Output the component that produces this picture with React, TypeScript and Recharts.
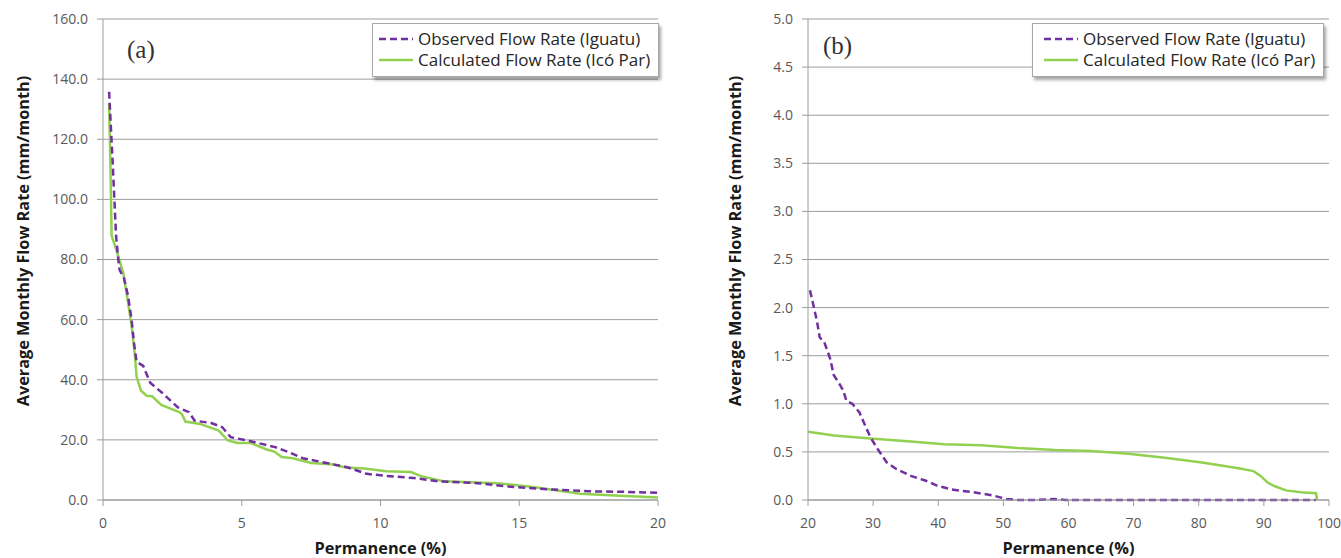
import React from 'react';
import { LineChart, Line, XAxis, YAxis, CartesianGrid, Legend } from 'recharts';

const FONT = '"Open Sans", "Noto Sans", sans-serif';
const PURPLE = '#7030A0';
const GREEN = '#92D050';
const GRID = '#9c9c9c';
const TICK = '#595959';

const seriesNames = ['Observed Flow Rate (Iguatu)', 'Calculated Flow Rate (Icó Par)'];
const yTitle = 'Average Monthly Flow Rate (mm/month)';
const xTitle = 'Permanence (%)';
const panelTags = ['(a)', '(b)'];

// Panel (a): permanence 0-20 %
const ticksAX = [0, 5, 10, 15, 20];
const ticksAY = [0, 20, 40, 60, 80, 100, 120, 140, 160];
const obsAX = [0.22, 0.35, 0.47, 0.55, 0.6, 0.75, 0.9, 1.03, 1.12, 1.21, 1.45, 1.7, 2.15, 2.7, 3.1, 3.3, 3.9, 4.3, 4.6, 5.2, 6.2, 6.7, 7.2, 7.9, 8.8, 9.5, 10.2, 11.2, 12.1, 13.5, 14.8, 16.2, 17.5, 18.8, 20];
const obsAY = [135.8, 112, 88, 80, 76.5, 74, 68, 60, 52, 46, 44.6, 39, 35.5, 30.8, 29.2, 26.4, 25.6, 24.2, 20.9, 19.8, 17.6, 15.9, 13.9, 12.6, 10.9, 8.7, 8.0, 7.3, 6.2, 5.6, 4.3, 3.5, 2.9, 2.7, 2.4];
const calcAX = [0.22, 0.27, 0.31, 0.45, 0.59, 0.73, 0.88, 1.03, 1.15, 1.21, 1.37, 1.57, 1.77, 2.1, 2.77, 2.84, 2.97, 3.5, 4.17, 4.5, 4.84, 5.3, 5.9, 6.17, 6.44, 6.84, 7.5, 8.3, 8.7, 9.5, 10.2, 11.1, 11.5, 12.3, 14.2, 15.5, 17.2, 18.8, 20];
const calcAY = [132, 110, 88, 84, 80, 75.5, 67, 58, 48, 41, 36.4, 34.7, 34.5, 31.6, 29.2, 28.6, 26.1, 25.3, 23.1, 19.8, 19.0, 19.0, 16.8, 16.1, 14.3, 13.9, 12.3, 11.8, 10.9, 10.4, 9.6, 9.3, 7.8, 6.2, 5.6, 4.3, 2.1, 1.3, 0.8];

// Panel (b): permanence 20-100 %
const ticksBX = [20, 30, 40, 50, 60, 70, 80, 90, 100];
const ticksBY = [0, 0.5, 1, 1.5, 2, 2.5, 3, 3.5, 4, 4.5, 5];
const obsBX = [20.3, 20.85, 21.4, 21.8, 22.5, 23.4, 23.95, 24.8, 25.4, 25.9, 26.8, 27.9, 28.8, 29.6, 30.7, 32.1, 33.6, 35.8, 38.1, 39.8, 42, 45.4, 48.2, 50.5, 52.2, 55, 57.9, 59.5, 70, 80, 90, 98];
const obsBY = [2.18, 2.02, 1.85, 1.69, 1.64, 1.47, 1.3, 1.21, 1.14, 1.03, 1.0, 0.91, 0.77, 0.65, 0.53, 0.39, 0.32, 0.25, 0.2, 0.15, 0.11, 0.08, 0.05, 0.01, 0.0, 0.0, 0.01, 0.0, 0.0, 0.0, 0.0, 0.0];
const calcBX = [20, 24, 29.6, 35.3, 40.9, 46.6, 52.2, 57.9, 63.5, 69.2, 74.8, 80.5, 86.1, 88.4, 89.5, 90.6, 91.8, 93.4, 95.7, 98, 98.2];
const calcBY = [0.71, 0.67, 0.64, 0.61, 0.58, 0.57, 0.54, 0.52, 0.51, 0.48, 0.44, 0.39, 0.33, 0.3, 0.25, 0.18, 0.14, 0.1, 0.08, 0.07, 0.0];

const zip = (xs: number[], ys: number[]) => xs.map((x, i) => ({ x, y: ys[i] }));

const LegendBox = ({ padLeft }: { padLeft: number }) => (
  <div
    style={{
      border: '1px solid #a6a6a6',
      background: '#fff',
      boxShadow: '2px 3px 3px rgba(0,0,0,0.35)',
      padding: `4px 8px 6px ${padLeft}px`,
      fontFamily: FONT,
      fontSize: 17,
      color: '#262626',
      lineHeight: '21px',
    }}
  >
    {seriesNames.map((name, i) => (
      <div key={name} style={{ display: 'flex', alignItems: 'center', whiteSpace: 'nowrap' }}>
        <svg width={34} height={10} style={{ display: 'block' }}>
          <line
            x1={0}
            y1={5}
            x2={34}
            y2={5}
            stroke={i === 0 ? PURPLE : GREEN}
            strokeWidth={2.5}
            strokeDasharray={i === 0 ? '7 4' : undefined}
          />
        </svg>
        <span style={{ marginLeft: 5 }}>{name}</span>
      </div>
    ))}
  </div>
);

const YTitle = ({ cx, cy }: any) => (
  <text
    x={cx}
    y={cy}
    transform={`rotate(-90, ${cx}, ${cy})`}
    textAnchor="middle"
    dominantBaseline="central"
    style={{ fontFamily: FONT, fontSize: 16.3, fontWeight: 700, fill: '#1a1a1a' }}
  >
    {yTitle}
  </text>
);

const XTitle = ({ viewBox }: any) => (
  <text
    x={viewBox.x + viewBox.width / 2}
    y={548}
    textAnchor="middle"
    dominantBaseline="central"
    style={{ fontFamily: FONT, fontSize: 16.3, fontWeight: 700, fill: '#1a1a1a' }}
  >
    {xTitle}
  </text>
);

type PanelProps = {
  width: number;
  marginLeft: number;
  marginRight: number;
  yTitleX: number;
  xDomain: [number, number];
  xTicks: number[];
  yDomain: [number, number];
  yTicks: number[];
  obs: { x: number; y: number }[];
  calc: { x: number; y: number }[];
  legendLeft: number;
  legendPad: number;
};

const Panel = (p: PanelProps) => (
  <LineChart
    width={p.width}
    height={558}
    margin={{ top: 19, right: p.marginRight, bottom: 8, left: p.marginLeft }}
    style={{ fontFamily: FONT }}
  >
    <CartesianGrid vertical={false} stroke={GRID} />
    <XAxis
      type="number"
      dataKey="x"
      domain={p.xDomain}
      ticks={p.xTicks}
      allowDataOverflow
      height={50}
      stroke={GRID}
      tickSize={6}
      tickMargin={12}
      tick={{ fill: TICK, fontSize: 14, fontFamily: FONT }}
      label={<XTitle />}
    />
    <YAxis
      type="number"
      dataKey="y"
      domain={p.yDomain}
      ticks={p.yTicks}
      width={90}
      stroke={GRID}
      tickSize={6}
      tickMargin={9}
      tick={{ fill: TICK, fontSize: 14, fontFamily: FONT }}
      tickFormatter={(v: number) => v.toFixed(1)}
      label={<YTitle cx={p.yTitleX} cy={241} />}
    />
    <Legend
      layout="vertical"
      align="center"
      verticalAlign="middle"
      wrapperStyle={{ left: p.legendLeft, top: 23, width: 'auto' }}
      content={() => <LegendBox padLeft={p.legendPad} />}
    />
    <Line
      data={p.calc}
      dataKey="y"
      name={seriesNames[1]}
      stroke={GREEN}
      strokeWidth={2.5}
      dot={false}
      activeDot={false}
      isAnimationActive={false}
      type="linear"
    />
    <Line
      data={p.obs}
      dataKey="y"
      name={seriesNames[0]}
      stroke={PURPLE}
      strokeWidth={2.5}
      strokeDasharray="7 4"
      dot={false}
      activeDot={false}
      isAnimationActive={false}
      type="linear"
    />
  </LineChart>
);

const tagStyle: React.CSSProperties = {
  position: 'absolute',
  fontFamily: '"Liberation Serif", "DejaVu Serif", serif',
  fontSize: 25,
  color: '#333',
  lineHeight: '28px',
};

export default function App() {
  return (
    <div style={{ position: 'absolute', left: 0, top: 0, width: 1341, height: 558, background: '#fff' }}>
      <div style={{ position: 'absolute', left: 0, top: 0 }}>
        <Panel
          width={680}
          marginLeft={13}
          marginRight={22}
          yTitleX={23}
          xDomain={[0, 20]}
          xTicks={ticksAX}
          yDomain={[0, 160]}
          yTicks={ticksAY}
          obs={zip(obsAX, obsAY)}
          calc={zip(calcAX, calcAY)}
          legendLeft={372}
          legendPad={6}
        />
      </div>
      <div style={{ position: 'absolute', left: 690, top: 0 }}>
        <Panel
          width={651}
          marginLeft={28}
          marginRight={12}
          yTitleX={45}
          xDomain={[20, 100]}
          xTicks={ticksBX}
          yDomain={[0, 5]}
          yTicks={ticksBY}
          obs={zip(obsBX, obsBY)}
          calc={zip(calcBX, calcBY)}
          legendLeft={342}
          legendPad={11}
        />
      </div>
      <div style={{ ...tagStyle, left: 127, top: 36 }}>{panelTags[0]}</div>
      <div style={{ ...tagStyle, left: 823, top: 32 }}>{panelTags[1]}</div>
    </div>
  );
}
